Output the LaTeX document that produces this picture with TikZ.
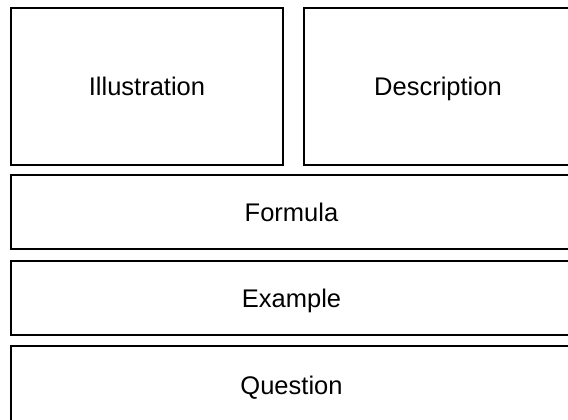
\documentclass[tikz,border=0pt]{standalone}
\usepackage{fontspec}
\setmainfont{Liberation Sans}
\begin{document}
\begin{tikzpicture}[x=1pt,y=-1pt,
  panel/.style={draw=black, line width=2pt, fill=white, inner sep=0pt, outer sep=0pt,
    font=\fontsize{25.5}{30}\selectfont, text=black, text height=18.3pt, text depth=0pt}]
\useasboundingbox (0,0) rectangle (568,420);
\node[panel, minimum width=272pt, minimum height=156pt] (ill) at (147,86.5) {Illustration};
\node[panel, minimum width=268pt, minimum height=156pt] (desc) at (438,86.5) {Description};
\node[panel, minimum width=561pt, minimum height=74pt] (form) at (291.5,212) {Formula};
\node[panel, minimum width=561pt, minimum height=74pt] (ex) at (291.5,298) {Example};
\node[panel, minimum width=561pt, minimum height=78pt] (q) at (291.5,385) {Question};
\end{tikzpicture}
\end{document}
